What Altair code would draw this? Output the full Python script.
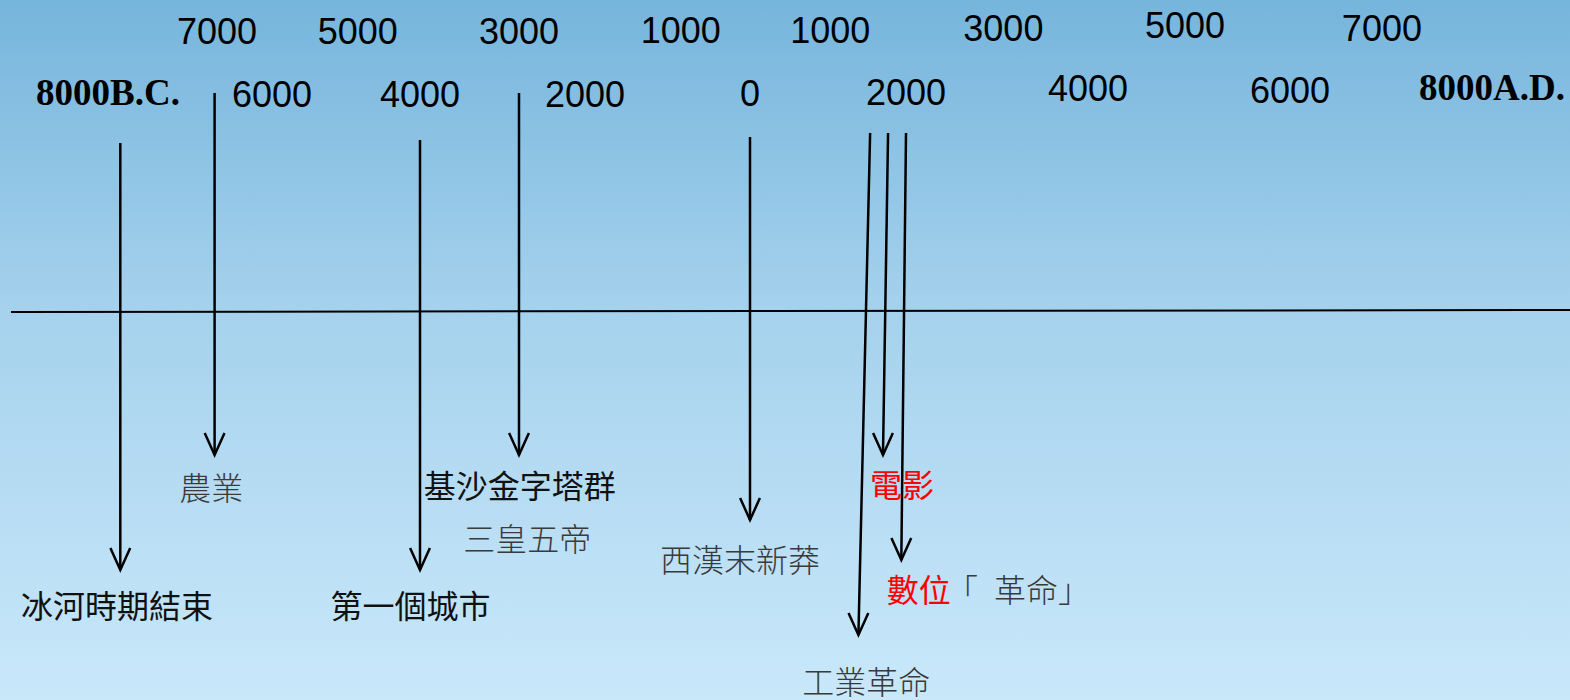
import altair as alt
import pandas as pd

# ---- data -------------------------------------------------------------
# year-label rows (negative = B.C.)
top_labels = ["7000", "5000", "3000", "1000", "1000", "3000", "5000", "7000"]
top_pos = [-6670, -4840, -2800, -840, 1030, 3070, 4960, 6910]
top_lvl = [33, 33, 33, 32, 32, 30, 27, 30]

bot_labels = ["6000", "4000", "2000", "0", "2000", "4000", "6000"]
bot_pos = [-6000, -4000, -2000, 0, 2000, 4000, 6000]
bot_lvl = [96, 96, 96, 95, 94, 90, 92]

end_labels = ["8000B.C.", "8000A.D."]
end_pos = [-8000, 8000]
end_lvl = [94, 89]

# events: arrow start / end (year), label
ev_names = ["冰河時期結束", "農業", "第一個城市", "基沙金字塔群", "西漢末新莽", "工業革命", "電影", "數位"]
ev_x1 = [-7850, -6700, -4000, -2800, 0, 1540, 1770, 2000]
ev_x2 = [-7850, -6700, -4000, -2800, 0, 1390, 1705, 1940]
ev_y1 = [143, 93, 140, 93, 137, 133, 133, 133]
ev_y2 = [570, 455, 570, 455, 520, 635, 455, 560]

lab_text = ["冰河時期結束", "農業", "第一個城市", "基沙金字塔群", "三皇五帝", "西漢末新莽", "工業革命", "電影", "數位", "「\u2002革命」"]
lab_pos = [-7890, -6740, -4130, -2790, -2700, -120, 1490, 1950, 2140, 2440]
lab_lvl = [608, 490, 608, 488, 541, 562, 684, 487, 592, 592]
lab_color = ["#111111", "#3a3a3a", "#111111", "#111111", "#3a3a3a", "#3a3a3a", "#3a3a3a", "#ff0000", "#ff0000", "#3a3a3a"]
lab_weight = [400, 300, 400, 400, 300, 300, 300, 400, 400, 300]
lab_align = ["center"] * 9 + ["left"]

# ---- scales -----------------------------------------------------------
xs = alt.Scale(domain=[-8000, -6000, -4000, -2000, 0, 2000, 4000, 6000, 8000],
               range=[108, 272, 420, 585, 750, 906, 1088, 1290, 1492])
ys = alt.Scale(domain=[0, 700], range=[0, 700])
W, H = 1570, 700

top_df = pd.DataFrame({"t": top_labels, "x": top_pos, "y": top_lvl})
bot_df = pd.DataFrame({"t": bot_labels, "x": bot_pos, "y": bot_lvl})
end_df = pd.DataFrame({"t": end_labels, "x": end_pos, "y": end_lvl})
ev_df = pd.DataFrame({"n": ev_names, "x": ev_x1, "x2": ev_x2, "y": ev_y1, "y2": ev_y2})
lab_df = pd.DataFrame({"t": lab_text, "x": lab_pos, "y": lab_lvl, "c": lab_color,
                       "w": lab_weight, "a": lab_align})

X = lambda f="x": alt.X(f"{f}:Q", scale=xs, axis=None)
Y = lambda f="y": alt.Y(f"{f}:Q", scale=ys, axis=None)

bg = alt.Chart(pd.DataFrame({"d": [0]})).mark_rect(
    color=alt.Gradient(gradient="linear",
                       stops=[alt.GradientStop(color="#76b5dc", offset=0),
                              alt.GradientStop(color="#a6d2ed", offset=0.45),
                              alt.GradientStop(color="#c9e8fa", offset=1)],
                       x1=0, x2=0, y1=0, y2=1)
).encode(x=alt.value(0), x2=alt.value(W), y=alt.value(0), y2=alt.value(H))

axis_line = alt.Chart(pd.DataFrame({"d": [0]})).mark_rule(color="black", strokeWidth=2).encode(
    x=alt.value(11), x2=alt.value(W), y=alt.value(312), y2=alt.value(310))

shafts = alt.Chart(ev_df).mark_rule(color="black", strokeWidth=2.5).encode(
    x=X("x"), x2="x2:Q", y=Y("y"), y2="y2:Q")

heads = alt.Chart(ev_df).mark_point(
    shape="M -0.45 -1 L 0 0 L 0.45 -1", size=1936, filled=False,
    stroke="black", strokeWidth=2.5, opacity=1
).encode(x=X("x2"), y=Y("y2"))

top_txt = alt.Chart(top_df).mark_text(font="Liberation Sans", fontSize=36, color="black",
                                      baseline="middle", align="center").encode(
    x=X(), y=Y(), text="t:N")
bot_txt = alt.Chart(bot_df).mark_text(font="Liberation Sans", fontSize=36, color="black",
                                      baseline="middle", align="center").encode(
    x=X(), y=Y(), text="t:N")
end_txt = alt.Chart(end_df).mark_text(font="Liberation Serif", fontSize=37, fontWeight="bold",
                                      color="black", baseline="middle", align="center").encode(
    x=X(), y=Y(), text="t:N")

def labels(align):
    layers = []
    sub = lab_df[lab_df.a == align]
    for w in sorted(sub.w.unique()):
        layers.append(alt.Chart(sub[sub.w == w]).mark_text(
            font="Noto Sans CJK TC", fontSize=32, fontWeight=int(w),
            baseline="middle", align=align).encode(
            x=X(), y=Y(), text="t:N", color=alt.Color("c:N", scale=None)))
    return layers

chart = alt.layer(bg, axis_line, shafts, heads, top_txt, bot_txt, end_txt,
                  *labels("center"), *labels("left")).properties(
    width=W, height=H, padding=0, autosize=alt.AutoSizeParams(type="none")
).configure_view(stroke=None)

chart.save("out.html", embed_options={"renderer": "svg", "actions": False})
